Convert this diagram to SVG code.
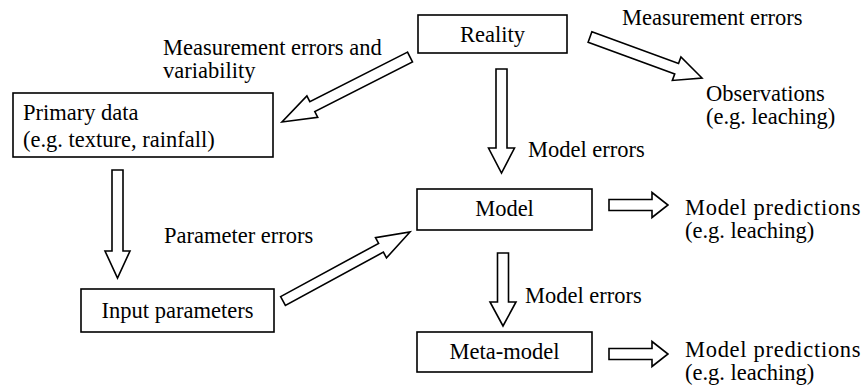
<svg xmlns="http://www.w3.org/2000/svg" width="867" height="387" viewBox="0 0 867 387" font-family="'Liberation Serif', 'Times New Roman', Tinos, 'DejaVu Serif', serif" font-size="22.5">
<style>
  .box { fill: #fff; stroke: #000; stroke-width: 1.6; }
  .arr { fill: #fff; stroke: #000; stroke-width: 1.6; stroke-linejoin: miter; }
  .t { font-family: 'Liberation Serif', 'Times New Roman', Tinos, 'DejaVu Serif', serif; font-size: 22.5px; fill: #000; }
  .c { text-anchor: middle; }
  .wide { letter-spacing: 0.7px; }
</style>
<rect width="867" height="387" fill="#fff"/>
<g id="connectors">
  <polygon class="arr" points="407.51,52.10 309.82,101.70 306.88,95.90 282,122 317.74,117.30 314.80,111.50 412.49,61.90"/>
  <polygon class="arr" points="591.89,31.83 678.53,63.55 680.94,56.98 702,78 672.34,80.46 674.75,73.89 588.11,42.17"/>
  <polygon class="arr" points="280.61,296.61 378.61,243.36 375.51,237.64 410,232 386.49,257.86 383.39,252.14 285.39,305.39"/>
  <polygon class="arr" points="496,69 507,69 507,148 514.5,148 501.5,173 488.5,148 496,148"/>
  <polygon class="arr" points="497.5,253 508.5,253 508.5,302 516,302 503,326 490,302 497.5,302"/>
  <polygon class="arr" points="112,170 123,170 123,251 130,251 117.5,278 105,251 112,251"/>
  <polygon class="arr" points="609,199.5 652,199.5 652,192.5 668,205 652,217.5 652,210.5 609,210.5"/>
  <polygon class="arr" points="609,348.5 652,348.5 652,341.5 668,354 652,366.5 652,359.5 609,359.5"/>
  <text class="t" x="163" y="55">Measurement errors and</text>
  <text class="t" x="163" y="78">variability</text>
  <text class="t" x="622" y="25">Measurement errors</text>
  <text class="t" x="528" y="157">Model errors</text>
  <text class="t" x="164" y="243">Parameter errors</text>
  <text class="t" x="525" y="303">Model errors</text>
</g>
<g id="reality">
  <rect class="box" x="418" y="15" width="149" height="38"/>
  <text class="t c" x="492.5" y="42">Reality</text>
</g>
<g id="observations">
  <text class="t" x="706" y="101">Observations</text>
  <text class="t" x="706" y="124">(e.g. leaching)</text>
</g>
<g id="primary-data">
  <rect class="box" x="13" y="93" width="260" height="64"/>
  <text class="t" x="23" y="120">Primary data</text>
  <text class="t" x="23" y="147">(e.g. texture, rainfall)</text>
</g>
<g id="model">
  <rect class="box" x="417" y="189" width="175" height="41"/>
  <text class="t c" x="504.5" y="216">Model</text>
</g>
<g id="model-predictions-1">
  <text class="t wide" x="685" y="215">Model predictions</text>
  <text class="t" x="685" y="238">(e.g. leaching)</text>
</g>
<g id="input-parameters">
  <rect class="box" x="81" y="289" width="193" height="43"/>
  <text class="t c" x="177.5" y="318">Input parameters</text>
</g>
<g id="meta-model">
  <rect class="box" x="417" y="332" width="175" height="40"/>
  <text class="t c" x="504.5" y="359">Meta-model</text>
</g>
<g id="model-predictions-2">
  <text class="t wide" x="685" y="357">Model predictions</text>
  <text class="t" x="685" y="380">(e.g. leaching)</text>
</g>
</svg>
